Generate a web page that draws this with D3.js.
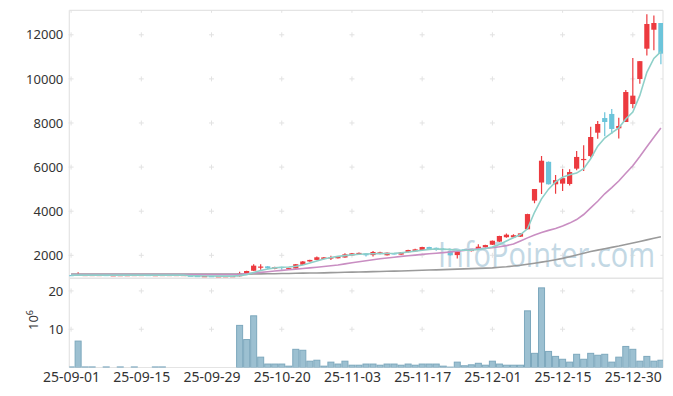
<!DOCTYPE html>
<html><head><meta charset="utf-8">
<script src="https://cdn.jsdelivr.net/npm/d3@7/dist/d3.min.js"></script>
<style>
html,body{margin:0;padding:0;background:#fff;}
svg{display:block;font-family:"Noto Sans",sans-serif;}
</style></head>
<body><svg id="c" width="673" height="396"></svg>
<script>
const dates = [
"25-09-01","25-09-02","25-09-03","25-09-04","25-09-05","25-09-08","25-09-09","25-09-10","25-09-11","25-09-12",
"25-09-15","25-09-16","25-09-17","25-09-18","25-09-19","25-09-22","25-09-23","25-09-24","25-09-25","25-09-26",
"25-09-29","25-09-30","25-10-01","25-10-02","25-10-10","25-10-13","25-10-14","25-10-15","25-10-16","25-10-17",
"25-10-20","25-10-21","25-10-22","25-10-23","25-10-24","25-10-27","25-10-28","25-10-29","25-10-30","25-10-31",
"25-11-03","25-11-04","25-11-05","25-11-06","25-11-07","25-11-10","25-11-11","25-11-12","25-11-13","25-11-14",
"25-11-17","25-11-18","25-11-19","25-11-20","25-11-21","25-11-24","25-11-25","25-11-26","25-11-27","25-11-28",
"25-12-01","25-12-02","25-12-03","25-12-04","25-12-05","25-12-08","25-12-09","25-12-10","25-12-11","25-12-12",
"25-12-15","25-12-16","25-12-17","25-12-18","25-12-19","25-12-22","25-12-23","25-12-24","25-12-26","25-12-29",
"25-12-30","26-01-02","26-01-05","26-01-06","26-01-07"];

const open = [1105,1100,1100,1110,1110,1110,1100,1095,1105,1100,
1110,1110,1100,1100,1110,1105,1110,1080,1065,1050,
1060,1045,1050,1050,1050,1150,1300,1480,1500,1390,
1475,1395,1400,1570,1720,1790,1835,1895,1865,1900,
2000,2080,2090,2010,2125,2000,2090,2030,2140,2180,
2240,2376,2340,2290,2190,2010,2270,2190,2285,2365,
2480,2620,2820,2815,2845,3180,4480,5300,6240,5220,
5250,5235,5930,6330,6500,7560,8225,8410,7760,8045,
8860,9995,11370,12230,12535];
const high = [1110,1230,1110,1110,1110,1110,1100,1110,1105,1150,
1110,1110,1105,1110,1110,1110,1110,1085,1065,1060,
1060,1055,1058,1060,1256,1300,1590,1590,1510,1480,
1480,1430,1610,1740,1800,1950,1920,1985,1960,2090,
2100,2130,2095,2190,2160,2130,2100,2150,2250,2300,
2390,2390,2350,2320,2210,2180,2280,2290,2500,2480,
2670,2890,2990,2960,3000,3880,5010,6500,6250,5640,
5910,5900,6730,6990,7830,8090,8485,8635,8240,9500,
10950,10810,12930,12870,12540];
const low = [1095,1095,1095,1110,1110,1100,1100,1090,1105,1100,
1110,1100,1100,1100,1110,1105,1110,1060,1055,1050,
1050,1045,1050,1050,1040,1140,1290,1350,1365,1370,
1350,1390,1390,1560,1710,1780,1820,1790,1850,1890,
1990,2050,1940,1940,2050,1990,2040,2020,2130,2170,
2230,2260,2210,2240,1990,1850,2190,2170,2270,2350,
2470,2600,2800,2800,2830,3170,4360,4780,5210,4790,
4920,5160,5855,5820,6430,7290,7400,7500,7300,8045,
8670,9780,11060,11300,10660];
const close = [1100,1140,1110,1110,1110,1100,1100,1105,1105,1110,
1110,1100,1105,1110,1110,1110,1110,1065,1055,1060,
1050,1055,1058,1060,1170,1288,1530,1490,1415,1460,
1420,1420,1595,1720,1790,1910,1905,1905,1950,2045,
2090,2110,2000,2150,2135,2120,2060,2135,2240,2270,
2376,2272,2250,2270,2000,2165,2200,2275,2390,2465,
2660,2875,2935,2910,2995,3870,5005,6290,5220,5410,
5500,5775,6460,6370,7365,7955,8045,7730,7865,9405,
9240,10805,12490,12535,11145];
// volume, in millions of shares
const volume = [0.15,6.9,0.15,0.15,0,0.15,0,0.15,0,0.15,
0,0,0.15,0.15,0,0,0,0,0,0,
0,0,0,0,11.0,7.3,13.5,2.7,0.9,0.9,
0.9,0.35,4.75,4.5,1.65,1.9,0.35,1.4,0.9,1.65,
0.6,0.6,0.9,0.9,0.6,0.9,0.9,0.6,0.9,0.6,
0.9,0.9,0.9,0.35,0.1,1.4,0.45,0.7,1.1,0.6,
1.65,0.9,0.6,0.6,0.6,14.8,3.7,20.8,4.2,2.9,
2.15,1.4,3.45,2.15,3.7,3.2,3.45,1.4,2.7,5.5,
4.75,1.65,2.9,1.65,1.9];
const maShort = [1100,1100,1100,1100,1100,1100,1100,1100,1100,1100,
1100,1100,1100,1100,1100,1100,1100,1075,1068,1062,
1058,1055,1055,1056,1080,1125,1220,1310,1380,1430,
1460,1470,1500,1560,1650,1740,1830,1900,1950,1985,
2020,2045,2060,2070,2075,2080,2090,2110,2150,2190,
2230,2270,2285,2280,2260,2240,2230,2235,2260,2310,
2380,2490,2650,2800,2940,3200,3950,4560,5000,5330,
5540,5650,5730,5930,6380,6950,7320,7550,7780,8180,
8500,9250,10300,10930,11240];
const maMid = [1125,1125,1125,1125,1125,1125,1125,1125,1125,1125,
1125,1125,1125,1125,1125,1125,1125,1125,1125,1125,
1125,1125,1125,1125,1140,1165,1195,1225,1255,1285,
1315,1345,1375,1400,1430,1460,1490,1525,1560,1610,
1660,1705,1750,1800,1840,1880,1915,1950,1980,2010,
2040,2070,2095,2120,2150,2185,2220,2260,2290,2320,
2350,2390,2440,2510,2650,2790,2920,3030,3130,3220,
3330,3460,3620,3850,4150,4450,4790,5070,5370,5720,
6060,6480,6925,7350,7770];
const maLong = [1145,1145,1145,1145,1145,1145,1145,1145,1145,1145,
1145,1145,1145,1145,1145,1145,1145,1145,1145,1145,
1145,1145,1145,1145,1145,1148,1152,1156,1160,1166,
1172,1178,1185,1190,1195,1200,1205,1213,1220,1228,
1235,1243,1250,1258,1265,1274,1282,1290,1300,1310,
1320,1330,1340,1350,1360,1372,1384,1395,1407,1418,
1430,1455,1480,1515,1550,1595,1640,1690,1740,1800,
1860,1935,2010,2090,2170,2235,2300,2360,2420,2490,
2560,2630,2700,2770,2840];
const priceTicks = [2000,4000,6000,8000,10000,12000];
const volTicks = [10,20];
const xTickLabels = ["25-09-01","25-09-15","25-09-29","25-10-20","25-11-03","25-11-17","25-12-01","25-12-15","25-12-30"];
const watermark = "InfoPointer.com";

const svg = d3.select("#c");
const L = 69.3, R = 663, T = 10.3, SEP = 278.3, B = 367.5;
const x = d3.scalePoint().domain(dates).range([71.1, 660.9]);
const yP = d3.scaleLinear().domain([957, 13111]).range([SEP, T]);
const yV = d3.scaleLinear().domain([0, 23.3]).range([B, SEP]);
const UP = "#ec3a3f", DOWN = "#6cc4da";

const defs = svg.append("defs");
defs.append("clipPath").attr("id","cp").append("rect").attr("x",L).attr("y",T).attr("width",R-L).attr("height",SEP-T);
defs.append("clipPath").attr("id","cv").append("rect").attr("x",L).attr("y",SEP).attr("width",R-L).attr("height",B-SEP);

// frame
const frame = svg.append("g").attr("stroke","#e4e4e4").attr("fill","none");
frame.append("line").attr("x1",L).attr("x2",R).attr("y1",T).attr("y2",T).attr("stroke-width",1.2);
frame.append("line").attr("x1",R).attr("x2",R).attr("y1",T).attr("y2",B).attr("stroke-width",1.2);
frame.append("line").attr("x1",L).attr("x2",L).attr("y1",T).attr("y2",B).attr("stroke-width",1.2);
frame.append("line").attr("x1",L).attr("x2",R).attr("y1",SEP).attr("y2",SEP).attr("stroke-width",1.5);
frame.append("line").attr("x1",L).attr("x2",R).attr("y1",B).attr("y2",B).attr("stroke-width",1);

// grid crosses
const tickIdx = xTickLabels.map(d => x(d));
const gc = svg.append("g").attr("stroke","#e2e2e2").attr("stroke-width",1);
const crossYs = priceTicks.map(v => yP(v)).concat(volTicks.map(v => yV(v)));
tickIdx.forEach(cx => {
  crossYs.forEach(cy => {
    gc.append("line").attr("x1",cx-2.5).attr("x2",cx+2.5).attr("y1",cy).attr("y2",cy);
    gc.append("line").attr("x1",cx).attr("x2",cx).attr("y1",cy-2.5).attr("y2",cy+2.5);
  });
  gc.append("line").attr("x1",cx).attr("x2",cx).attr("y1",T).attr("y2",T+2.5);
});
crossYs.forEach(cy => gc.append("line").attr("x1",R-2.5).attr("x2",R).attr("y1",cy).attr("y2",cy));

// watermark
svg.append("text").attr("x",438).attr("y",267).attr("font-family","'Open Sans',sans-serif")
  .attr("font-size",34).attr("fill","#c3d8e4").attr("textLength",217).attr("lengthAdjust","spacingAndGlyphs")
  .text(watermark);

// volume bars
const bw = x.step();
svg.append("g").attr("clip-path","url(#cv)").selectAll("rect").data(dates).join("rect")
  .attr("x", d => x(d) - bw/2 + 0.5).attr("width", bw - 1)
  .attr("y", (d,i) => yV(volume[i])).attr("height", (d,i) => B - yV(volume[i]))
  .attr("fill","#9cc0d1").attr("stroke","#7da8bd").attr("stroke-width",1);

// candles
const cg = svg.append("g").attr("clip-path","url(#cp)");
const col = i => close[i] >= open[i] ? UP : DOWN;
cg.selectAll("line.w").data(dates).join("line").attr("class","w")
  .attr("x1", d => x(d)).attr("x2", d => x(d))
  .attr("y1", (d,i) => yP(high[i])).attr("y2", (d,i) => yP(low[i]))
  .attr("stroke", (d,i) => col(i)).attr("stroke-width",1.2);
cg.selectAll("rect").data(dates).join("rect")
  .attr("x", d => x(d) - 2.6).attr("width", 5.2)
  .attr("y", (d,i) => yP(Math.max(open[i],close[i])))
  .attr("height", (d,i) => Math.max(1.2, Math.abs(yP(open[i]) - yP(close[i]))))
  .attr("fill", (d,i) => col(i));

// moving averages
const lineOf = arr => d3.line().x((d,i) => x(dates[i])).y(d => yP(d))(arr);
[[maLong,"#9a9a9a"],[maMid,"#c98ec2"],[maShort,"#8fd0c9"]].forEach(([arr,c]) => {
  cg.append("path").attr("d", lineOf(arr)).attr("fill","none").attr("stroke",c).attr("stroke-width",1.6);
});

// axes
const styleAx = g => { g.select(".domain").remove(); g.selectAll("text").attr("fill","#333").attr("font-family","'Noto Sans',sans-serif"); };
svg.append("g").attr("transform",`translate(${L},0)`)
  .call(d3.axisLeft(yP).tickValues(priceTicks).tickSize(0).tickPadding(6).tickFormat(d3.format("d")))
  .call(styleAx).selectAll("text").attr("font-size",13);
svg.append("g").attr("transform",`translate(${L},0)`)
  .call(d3.axisLeft(yV).tickValues(volTicks).tickSize(0).tickPadding(6).tickFormat(d3.format("d")))
  .call(styleAx).selectAll("text").attr("font-size",13);
svg.append("g").attr("transform",`translate(0,${B})`)
  .call(d3.axisBottom(x).tickValues(xTickLabels).tickSize(0).tickPadding(5))
  .call(styleAx).selectAll("text").attr("font-size",14);

// y unit label
const ul = svg.append("text").attr("transform","translate(37.5,320) rotate(-90)")
  .attr("text-anchor","middle").attr("fill","#333").attr("font-size",13);
ul.append("tspan").text("10");
ul.append("tspan").attr("dy",-5).attr("font-size",9).text("6");
</script></body></html>
